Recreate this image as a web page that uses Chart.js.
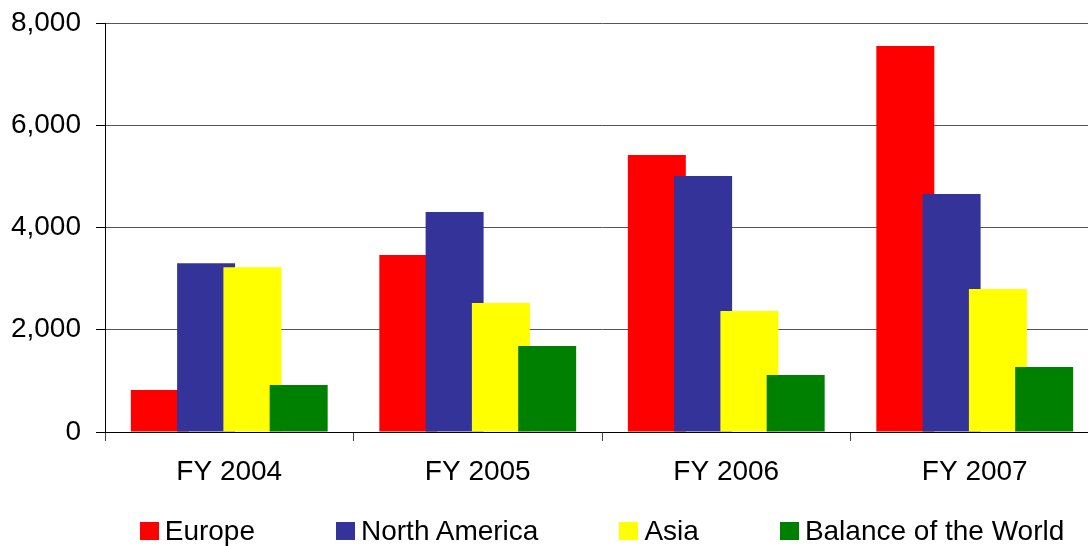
<!DOCTYPE html>
<html>
<head>
<meta charset="utf-8">
<script src="https://cdn.jsdelivr.net/npm/chart.js@4"></script>
<style>
  html, body { margin: 0; padding: 0; background: #fff; overflow: hidden; }
  #wrap { position: relative; width: 1088px; height: 546px; overflow: hidden; }
  #legend {
    position: absolute; left: 105px; width: 994px; top: 517px;
    display: flex; justify-content: center; gap: 81px;
    font-family: 'Liberation Sans', Arial, sans-serif; font-size: 28px; color: #000;
    line-height: 28px; white-space: nowrap;
  }
  #legend .item { display: flex; align-items: center; }
  #legend .box { width: 19px; height: 18px; margin-right: 6px; }
</style>
</head>
<body>
<div id="wrap">
  <canvas id="chart" width="1099" height="546"></canvas>
  <div id="legend"></div>
</div>
<script>
const categories = ["FY 2004", "FY 2005", "FY 2006", "FY 2007"];
const europe = [821, 3462, 5418, 7550];
const northAmerica = [3300, 4303, 5007, 4655];
const asia = [3221, 2523, 2367, 2797];
const balanceOfWorld = [919, 1682, 1115, 1271];
const seriesNames = ["Europe", "North America", "Asia", "Balance of the World"];
const seriesColors = ['#ff0000', '#333399', '#ffff00', '#008000'];

const font = { family: "'Liberation Sans', Arial, sans-serif", size: 28 };

// draw datasets first-to-last so later series sit on top of the overlap
const drawInOrder = {
    id: 'drawInOrder',
    beforeDatasetsDraw(chart) {
        const ctx = chart.ctx;
        ctx.save();
        ctx.beginPath();
        ctx.rect(chart.chartArea.left, chart.chartArea.top, chart.chartArea.width, chart.chartArea.height);
        ctx.clip();
        for (let i = 0; i < chart.data.datasets.length; i++) {
            chart.getDatasetMeta(i).controller.draw();
        }
        ctx.restore();
        return false;
    }
};

const chart = new Chart(document.getElementById('chart'), {
    type: 'bar',
    data: {
        labels: categories,
        datasets: [europe, northAmerica, asia, balanceOfWorld].map((d, i) => ({
            label: seriesNames[i],
            data: d,
            backgroundColor: seriesColors[i],
            borderWidth: 0,
            categoryPercentage: 0.745,
            barPercentage: 1.253
        }))
    },
    options: {
        responsive: false,
        animation: false,
        layout: { padding: { top: 23, right: 0, bottom: 54, left: 0 } },
        plugins: {
            legend: { display: false },
            tooltip: { enabled: false }
        },
        scales: {
            x: {
                afterFit(s) { s.height = 60; s.paddingLeft = 0; s.paddingRight = 0; },
                ticks: { font: font, color: '#000', padding: 14 },
                grid: {
                    offset: true,
                    drawOnChartArea: false,
                    tickLength: 9,
                    color: '#444'
                },
                border: { color: '#000', width: 1 }
            },
            y: {
                min: 0,
                max: 8000,
                afterFit(s) { s.width = 105; s.paddingTop = 0; s.paddingBottom = 0; },
                ticks: {
                    stepSize: 2000,
                    font: font,
                    color: '#000',
                    padding: 15,
                    callback: v => v.toLocaleString('en-US')
                },
                grid: {
                    color: '#555',
                    tickColor: '#000',
                    tickLength: 9
                },
                border: { color: '#000', width: 1 }
            }
        }
    },
    plugins: [drawInOrder]
});

const legendEl = document.getElementById('legend');
seriesNames.forEach((name, i) => {
    const item = document.createElement('div');
    item.className = 'item';
    const box = document.createElement('span');
    box.className = 'box';
    box.style.background = seriesColors[i];
    const txt = document.createElement('span');
    txt.textContent = name;
    item.appendChild(box);
    item.appendChild(txt);
    legendEl.appendChild(item);
});
</script>
</body>
</html>
